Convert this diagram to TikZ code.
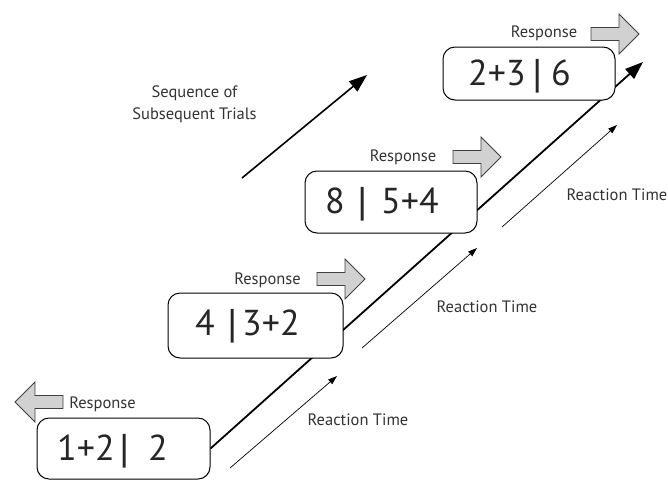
\documentclass[tikz,border=0pt]{standalone}
\usepackage{fontspec}
\setmainfont{PT Sans}
\newfontfamily\barfont{Liberation Sans}
\usetikzlibrary{arrows.meta,backgrounds}
\newcommand\piece[1]{\makebox[0pt][l]{#1}}
\newcommand\vbar{\makebox[0pt][c]{\barfont\fontsize{36}{38}\selectfont|}}
\tikzset{
  trial/.style={draw=black, line width=1pt, rounded corners=12pt, fill=white, inner sep=0pt},
  big/.style={font=\fontsize{36}{40}\selectfont, inner sep=0pt, anchor=base west, text=black!85},
  lbl/.style={font=\fontsize{16.5}{19}\selectfont, inner sep=0pt, text=black!80},
  respar/.pic={\filldraw[fill=black!18, draw=black!75, line width=0.8pt]
     (0,-6.5) -- (28,-6.5) -- (28,-20) -- (48,0) -- (28,20) -- (28,6.5) -- (0,6.5) -- cycle;},
  rtarrow/.style={line width=0.7pt, -{Triangle[length=9pt,width=6pt]}},
}
\begin{document}
\begin{tikzpicture}[x=1pt,y=-1pt]
\useasboundingbox (0,0) rectangle (668,480);
% boxes
\node[trial, minimum width=173pt, minimum height=61pt] (b1) at (123.5,448.5) {};
\node[trial, minimum width=175pt, minimum height=65pt] (b2) at (255.5,325.5) {};
\node[trial, minimum width=172pt, minimum height=62pt] (b3) at (391,202) {};
\node[trial, minimum width=172pt, minimum height=53pt] (b4) at (529,73.5) {};
\coordinate (mainend) at (643,62);
\begin{scope}[on background layer]
  \draw[line width=1.8pt, -{Triangle[length=18pt,width=13pt]}] (b1.east) -- (mainend);
\end{scope}
% box texts
\node[big] (t1) at (57,460) {\piece{1+2}\hspace{67pt}\vbar\hspace{24pt}\piece{2}\hspace{18pt}};
\node[big] (t2) at (195,335) {\piece{4}\hspace{37pt}\vbar\hspace{10pt}\piece{3+2}\hspace{56pt}};
\node[big] (t3) at (325,213) {\piece{8}\hspace{37pt}\vbar\hspace{19pt}\piece{5+4}\hspace{56pt}};
\node[big] (t4) at (468,85) {\piece{2+3}\hspace{69pt}\vbar\hspace{14pt}\piece{6}\hspace{18pt}};
% response labels
\node[lbl] (r1) at (102.5,404) {Response};
\node[lbl] (r2) at (267.5,280) {Response};
\node[lbl] (r3) at (403,157) {Response};
\node[lbl] (r4) at (544,33) {Response};
% response block arrows
\pic at (63,402) [xscale=-1] {respar};
\pic at (317,279) {respar};
\pic at (453,157) {respar};
\pic at (591,34) {respar};
% reaction time arrows
\coordinate (rt1s) at (230,468); \coordinate (rt1e) at (337,376);
\coordinate (rt2s) at (362,348); \coordinate (rt2e) at (477,248);
\coordinate (rt3s) at (502,227); \coordinate (rt3e) at (617,125);
\draw[rtarrow] (rt1s) -- (rt1e);
\draw[rtarrow] (rt2s) -- (rt2e);
\draw[rtarrow] (rt3s) -- (rt3e);
\node[lbl] (rtl1) at (358,420) {Reaction Time};
\node[lbl] (rtl2) at (487,307) {Reaction Time};
\node[lbl] (rtl3) at (617,195) {Reaction Time};
% sequence arrow
\node[lbl, align=center, font=\fontsize{16.5}{22}\selectfont] (seq) at (194.5,104) {Sequence of\\Subsequent Trials};
\coordinate (sqs) at (242,178); \coordinate (sqe) at (367,75);
\draw[line width=1.6pt, -{Triangle[length=18pt,width=13pt]}] (sqs) -- (sqe);
\end{tikzpicture}
\end{document}
